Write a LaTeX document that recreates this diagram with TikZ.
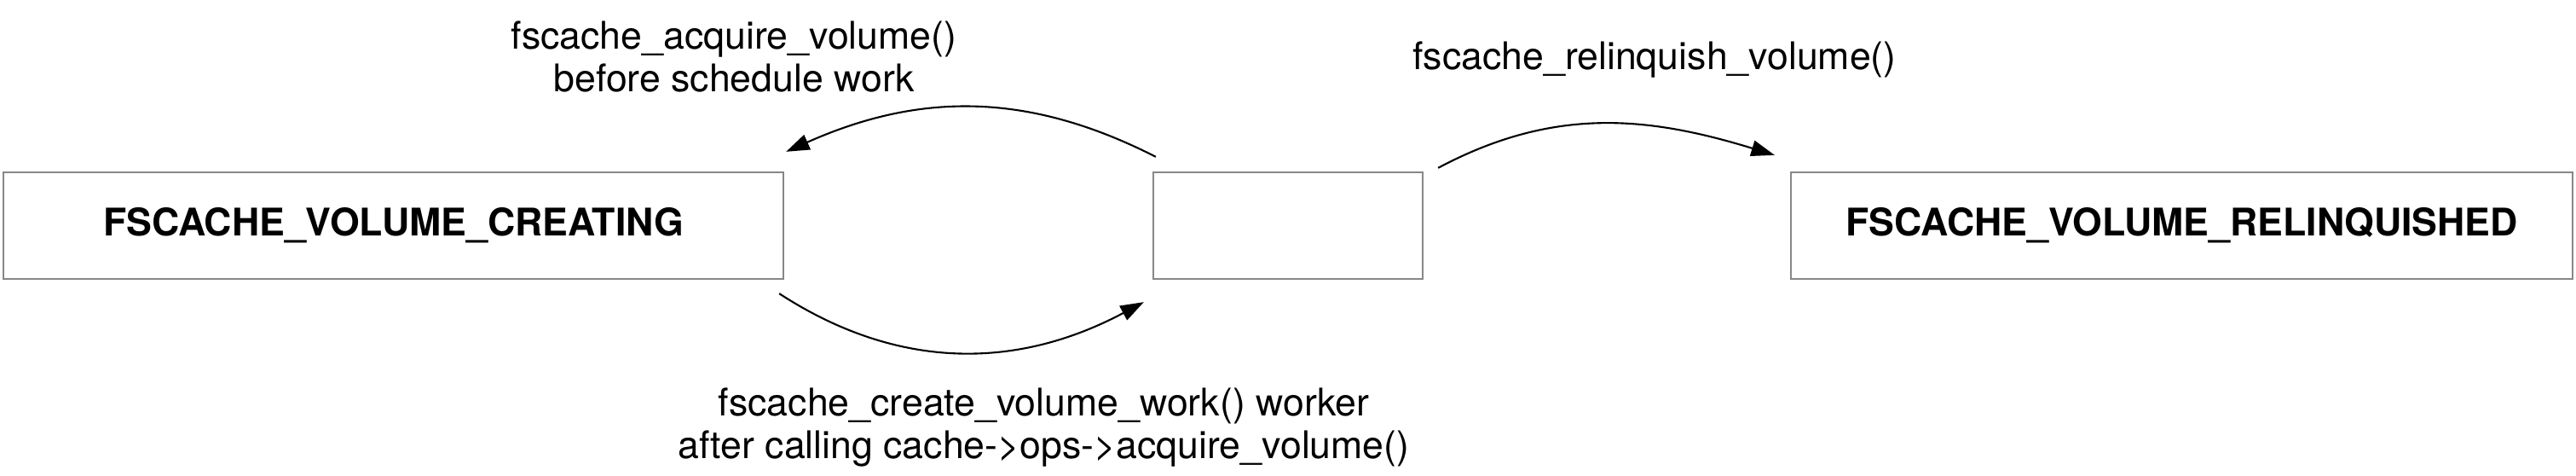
\documentclass[tikz,border=0pt]{standalone}
\usepackage{fontspec}
\setmainfont{TeX Gyre Heros}
\usetikzlibrary{arrows.meta}
\tikzset{
	state/.style={draw=black!47, line width=0.65pt, minimum height=1.25cm, font=\fontsize{12.7}{14.5}\selectfont\bfseries},
	lbl/.style={align=center, font=\fontsize{12.7}{14.5}\selectfont, inner sep=0pt},
	flow/.style={line width=0.6pt, -{Triangle[length=7.8pt,width=5.3pt]}}
}

\begin{document}
\begin{tikzpicture}
			%%%%% START %%%%%
			\useasboundingbox (0, 0) rectangle (30.22, 5.58);
			
			\node[state, minimum width=9.15cm] (creating) at (4.615, 2.935) {FSCACHE\_VOLUME\_CREATING};
			\node[state, minimum width=3.16cm] (active) at (15.11, 2.935) {};
			\node[state, minimum width=9.17cm] (relinquished) at (25.595, 2.935) {FSCACHE\_VOLUME\_RELINQUISHED};
			
			\draw[flow] ([shift={(0.04, 0.17)}]active.north west) to[out=153, in=24] ([shift={(0.02, 0.23)}]creating.north east);
			\draw[flow] ([shift={(-0.06, -0.16)}]creating.south east) to[out=-33, in=-152] ([shift={(-0.10, -0.26)}]active.south west);
			\draw[flow] ([shift={(0.17, 0.04)}]active.north east) to[out=28, in=163] ([shift={(-0.18, 0.19)}]relinquished.north west);
			
			% base is the last line
			\node[lbl, anchor=base] (acquirelbl) at (8.61, 4.50) {fscache\_acquire\_volume()\\before schedule work};
			\node[lbl, anchor=base] (relinquishlbl) at (19.41, 4.76) {fscache\_relinquish\_volume()};
			\node[lbl, anchor=base] (createlbl) at (12.245, 0.20) {fscache\_create\_volume\_work() worker\\after calling cache->ops->acquire\_volume()};
			%%%%% END %%%%%
		\end{tikzpicture}
\end{document}
